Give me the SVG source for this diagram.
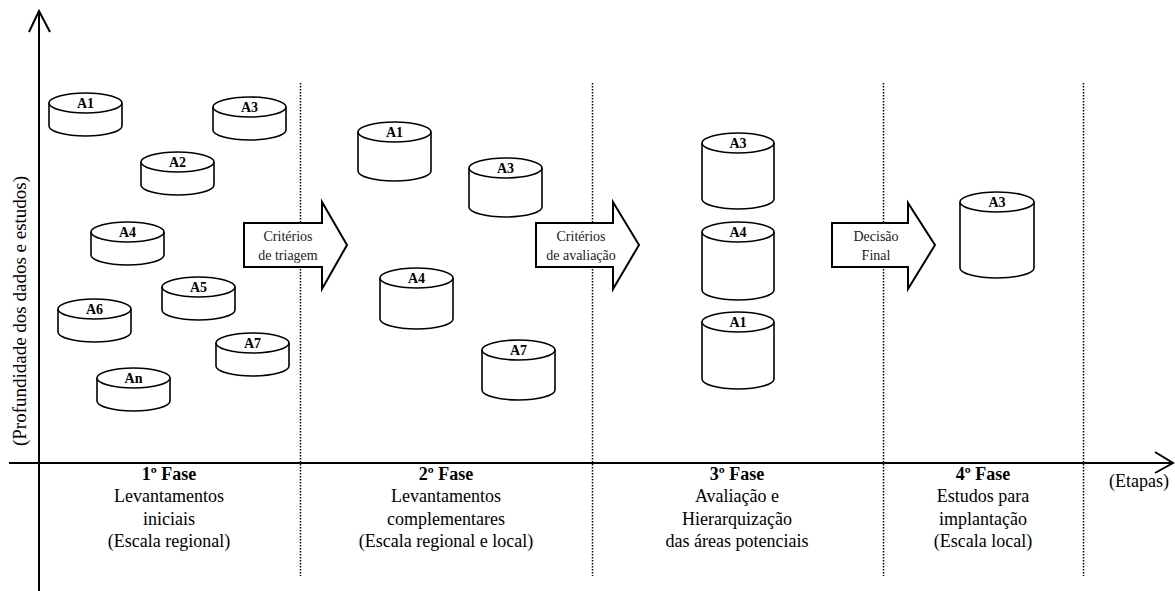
<svg xmlns="http://www.w3.org/2000/svg" width="1175" height="591" viewBox="0 0 1175 591">
  <style>
    .axis { stroke: #000; stroke-width: 2; fill: none; }
    .sep { stroke: #000; stroke-width: 1.5; stroke-dasharray: 1.5 1.5; fill: none; }
    .cyl { fill: #fff; stroke: #000; stroke-width: 1.6; }
    .lbl { font-family: "Liberation Serif", "Times New Roman", serif; font-size: 14px; font-weight: bold; text-anchor: middle; fill: #000; }
    .blk { fill: #fff; stroke: #000; stroke-width: 2; stroke-linejoin: miter; }
    .blt { font-family: "Liberation Serif", "Times New Roman", serif; font-size: 14px; text-anchor: middle; fill: #222; }
    .ph { font-family: "Liberation Serif", "Times New Roman", serif; font-size: 18px; text-anchor: middle; fill: #000; }
    .ph .b { font-weight: bold; }
  </style>

  <!-- phase separators -->
  <g id="separators">
    <line class="sep" x1="300.5" y1="83" x2="300.5" y2="576"/>
    <line class="sep" x1="592.5" y1="83" x2="592.5" y2="576"/>
    <line class="sep" x1="883.5" y1="83" x2="883.5" y2="576"/>
    <line class="sep" x1="1083.5" y1="83" x2="1083.5" y2="576"/>
  </g>

  <!-- axes -->
  <g id="axes">
    <line class="axis" x1="39" y1="11" x2="39" y2="591"/>
    <polyline class="axis" points="29,32 39,11 50,32"/>
    <line class="axis" x1="9" y1="463" x2="1172" y2="463"/>
    <polyline class="axis" points="1155,452 1173,463 1155,473"/>
    <text class="ph" style="font-size:19px" transform="translate(26,311) rotate(-90)">(Profundidade dos dados e estudos)</text>
    <text class="ph" x="1139" y="487">(Etapas)</text>
  </g>

  <!-- phase 1 areas -->
  <g id="p1-A1"><path class="cyl" d="M49,103 V126 A36.5,10 0 0 0 122,126 V103"/><ellipse class="cyl" cx="85.5" cy="103" rx="36.5" ry="10"/><text class="lbl" x="85.5" y="107.5">A1</text></g>
  <g id="p1-A3"><path class="cyl" d="M213,107 V130 A36.5,10 0 0 0 286,130 V107"/><ellipse class="cyl" cx="249.5" cy="107" rx="36.5" ry="10"/><text class="lbl" x="249.5" y="111.5">A3</text></g>
  <g id="p1-A2"><path class="cyl" d="M141,162 V185 A36.5,10 0 0 0 214,185 V162"/><ellipse class="cyl" cx="177.5" cy="162" rx="36.5" ry="10"/><text class="lbl" x="177.5" y="166.5">A2</text></g>
  <g id="p1-A4"><path class="cyl" d="M91,232 V255 A36.5,10 0 0 0 164,255 V232"/><ellipse class="cyl" cx="127.5" cy="232" rx="36.5" ry="10"/><text class="lbl" x="127.5" y="236.5">A4</text></g>
  <g id="p1-A5"><path class="cyl" d="M162,287 V310 A36.5,10 0 0 0 235,310 V287"/><ellipse class="cyl" cx="198.5" cy="287" rx="36.5" ry="10"/><text class="lbl" x="198.5" y="291.5">A5</text></g>
  <g id="p1-A6"><path class="cyl" d="M58,309 V332 A36.5,10 0 0 0 131,332 V309"/><ellipse class="cyl" cx="94.5" cy="309" rx="36.5" ry="10"/><text class="lbl" x="94.5" y="313.5">A6</text></g>
  <g id="p1-A7"><path class="cyl" d="M216,343 V366 A36.5,10 0 0 0 289,366 V343"/><ellipse class="cyl" cx="252.5" cy="343" rx="36.5" ry="10"/><text class="lbl" x="252.5" y="347.5">A7</text></g>
  <g id="p1-An"><path class="cyl" d="M97,378 V401 A36.5,10 0 0 0 170,401 V378"/><ellipse class="cyl" cx="133.5" cy="378" rx="36.5" ry="10"/><text class="lbl" x="133.5" y="382.5">An</text></g>

  <!-- phase 2 areas -->
  <g id="p2-A1"><path class="cyl" d="M358,132 V171 A36.5,10 0 0 0 431,171 V132"/><ellipse class="cyl" cx="394.5" cy="132" rx="36.5" ry="10"/><text class="lbl" x="394.5" y="136.5">A1</text></g>
  <g id="p2-A3"><path class="cyl" d="M469,168 V207 A36.5,10 0 0 0 542,207 V168"/><ellipse class="cyl" cx="505.5" cy="168" rx="36.5" ry="10"/><text class="lbl" x="505.5" y="172.5">A3</text></g>
  <g id="p2-A4"><path class="cyl" d="M380,278 V319 A36.5,10 0 0 0 453,319 V278"/><ellipse class="cyl" cx="416.5" cy="278" rx="36.5" ry="10"/><text class="lbl" x="416.5" y="282.5">A4</text></g>
  <g id="p2-A7"><path class="cyl" d="M482,350 V390 A36.5,10 0 0 0 555,390 V350"/><ellipse class="cyl" cx="518.5" cy="350" rx="36.5" ry="10"/><text class="lbl" x="518.5" y="354.5">A7</text></g>

  <!-- phase 3 areas -->
  <g id="p3-A3"><path class="cyl" d="M702,143 V199 A36,10 0 0 0 774,199 V143"/><ellipse class="cyl" cx="738" cy="143" rx="36" ry="10"/><text class="lbl" x="738" y="147.5">A3</text></g>
  <g id="p3-A4"><path class="cyl" d="M702,232 V290 A36,10 0 0 0 774,290 V232"/><ellipse class="cyl" cx="738" cy="232" rx="36" ry="10"/><text class="lbl" x="738" y="236.5">A4</text></g>
  <g id="p3-A1"><path class="cyl" d="M702,322 V379 A36,10 0 0 0 774,379 V322"/><ellipse class="cyl" cx="738" cy="322" rx="36" ry="10"/><text class="lbl" x="738" y="326.5">A1</text></g>

  <!-- phase 4 area -->
  <g id="p4-A3"><path class="cyl" d="M960,202 V268 A37,10 0 0 0 1034,268 V202"/><ellipse class="cyl" cx="997" cy="202" rx="37" ry="10"/><text class="lbl" x="997" y="206.5">A3</text></g>

  <!-- transitions between phases -->
  <g id="connectors">
    <g id="t1">
      <polygon class="blk" points="244,223 322,223 322,202 347,245 322,289 322,267 244,267"/>
      <text class="blt" x="288" y="241">Critérios</text>
      <text class="blt" x="288" y="260">de triagem</text>
    </g>
    <g id="t2">
      <polygon class="blk" points="536,223 613,223 613,202 639,245 613,289 613,267 536,267"/>
      <text class="blt" x="581" y="241">Critérios</text>
      <text class="blt" x="581" y="260">de avaliação</text>
    </g>
    <g id="t3">
      <polygon class="blk" points="832,223 908,223 908,203 935,245 908,289 908,267 832,267"/>
      <text class="blt" x="876" y="241">Decisão</text>
      <text class="blt" x="876" y="260">Final</text>
    </g>
  </g>

  <!-- phase captions -->
  <g id="phase1"><text class="ph"><tspan class="b" x="169" y="480">1º Fase</tspan><tspan x="169" y="502">Levantamentos</tspan><tspan x="169" y="525">iniciais</tspan><tspan x="169" y="547">(Escala regional)</tspan></text></g>
  <g id="phase2"><text class="ph"><tspan class="b" x="446" y="480">2º Fase</tspan><tspan x="446" y="502">Levantamentos</tspan><tspan x="446" y="525">complementares</tspan><tspan x="446" y="547">(Escala regional e local)</tspan></text></g>
  <g id="phase3"><text class="ph"><tspan class="b" x="737" y="480">3º Fase</tspan><tspan x="737" y="502">Avaliação e</tspan><tspan x="737" y="525">Hierarquização</tspan><tspan x="737" y="547">das áreas potenciais</tspan></text></g>
  <g id="phase4"><text class="ph"><tspan class="b" x="983" y="480">4º Fase</tspan><tspan x="983" y="502">Estudos para</tspan><tspan x="983" y="525">implantação</tspan><tspan x="983" y="547">(Escala local)</tspan></text></g>
</svg>
